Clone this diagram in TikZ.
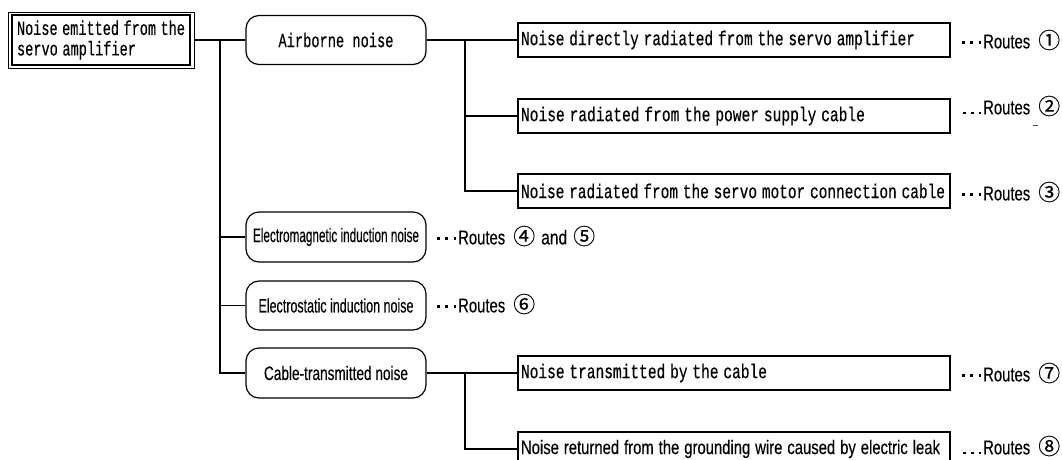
\documentclass[tikz,border=0pt]{standalone}
\usepackage{fontspec}
\usepackage{graphicx}
\setmainfont{Liberation Sans}
\newfontfamily\monof[FakeBold=0.4]{Liberation Mono}
\newfontfamily\sansf[FakeBold=0.3]{Liberation Sans}
\newfontfamily\cjkf[FakeBold=0.3]{Noto Sans CJK JP}
% squeeze a piece of text to a given width, keeping its height
\newcommand\fitto[2]{\resizebox{#1}{\height}{#2}}
\newcommand\dotbox{\rule{2.6pt}{2.6pt}}
\newcommand\dotmark{\raisebox{4.5pt}{\dotbox}}
\newcommand\middots{\hbox to 19pt{\dotmark\hss\dotmark\hss\dotmark}\hspace{2pt}}
\newcommand\lowdots{\hbox to 18pt{\dotbox\hss\dotbox\hss\dotbox}\hspace{2pt}}
\newcommand\circnum[1]{{\cjkf\fontsize{22}{22}\selectfont #1}}
\newcommand\routes{\fitto{47pt}{Routes}}
\begin{document}
\begin{tikzpicture}[x=1pt,y=-1pt,
  conn/.style={line width=1.6pt},
  plainbox/.style={draw, line width=1.2pt, rectangle, minimum width=432pt,
    minimum height=34pt, inner xsep=3pt, inner ysep=0pt, text width=426pt,
    align=left, font=\monof\fontsize{20}{22}\selectfont},
  roundbox/.style={draw, line width=1.2pt, rounded corners=13pt,
    minimum width=180pt, minimum height=49pt, inner sep=0pt, align=center,
    font=\sansf\fontsize{19.5}{22}\selectfont},
  routelabel/.style={anchor=west, inner sep=0pt,
    font=\sansf\fontsize{20}{22}\selectfont},
]
\useasboundingbox (0,0) rectangle (1062,459);

% source of the noise (double frame)
\node[draw, line width=0.8pt, minimum width=186pt, minimum height=56pt,
  inner sep=0pt] (root) at (101,40) {};
\node[draw, line width=1.4pt, minimum width=178pt, minimum height=50pt,
  inner xsep=5pt, inner ysep=0pt, text width=168pt, align=left,
  font=\monof\fontsize{20}{20.5}\selectfont] (rootin) at (101,40)
  {\fitto{168pt}{Noise emitted from the}\\\fitto{119pt}{servo amplifier}};

% second level: kinds of noise
\node[roundbox, font=\monof\fontsize{20}{22}\selectfont] (air) at (336,40)
  {\fitto{115pt}{Airborne noise}};
\node[roundbox, minimum height=50pt] (em) at (336,237)
  {\fitto{166pt}{Electromagnetic induction noise}};
\node[roundbox] (es) at (336,305.5)
  {\fitto{155pt}{Electrostatic induction noise}};
\node[roundbox, minimum height=50pt] (cab) at (336,373)
  {\fitto{144pt}{Cable-transmitted noise}};

% third level: individual paths
\node[plainbox] (r1) at (734,40)
  {\fitto{394pt}{Noise directly radiated from the servo amplifier}};
\node[plainbox] (r2) at (734,116)
  {\fitto{344pt}{Noise radiated from the power supply cable}};
\node[plainbox] (r3) at (734,191)
  {\fitto{424pt}{Noise radiated from the servo motor connection cable}};
\node[plainbox] (r7) at (734,373)
  {\fitto{246pt}{Noise transmitted by the cable}};
\node[plainbox, font=\sansf\fontsize{19.5}{22}\selectfont] (r8) at (734,449)
  {\fitto{419pt}{Noise returned from the grounding wire caused by electric leak}};

% route references
\node[routelabel] (l1) at (962,40) {\middots\routes\hspace{8pt}\circnum{①}};
\node[routelabel] (l2) at (963,106) {\lowdots\routes\hspace{8pt}\circnum{②}};
\node[routelabel] (l3) at (962,192) {\middots\routes\hspace{8pt}\circnum{③}};
\node[routelabel] (l45) at (437,236)
  {\middots\routes\hspace{8pt}\circnum{④}\hspace{6pt}\fitto{26pt}{and}\hspace{6pt}\circnum{⑤}};
\node[routelabel] (l6) at (437,304) {\middots\routes\hspace{8pt}\circnum{⑥}};
\node[routelabel] (l7) at (962,373) {\middots\routes\hspace{8pt}\circnum{⑦}};
\node[routelabel] (l8) at (963,446) {\lowdots\routes\hspace{8pt}\circnum{⑧}};
\draw[line width=0.8pt, black!70] (1033,125) -- (1038,125);

% connectors
\coordinate (t) at (220,40);
\coordinate (b1) at (465,40);
\coordinate (b2) at (465,373);
\draw[conn] (root.east) -- (air.west);
\draw[conn] (t) |- (em.west);
\draw[conn] (t) |- (es.west);
\draw[conn] (t) |- (cab.west);
\draw[conn] (air.east) -- (r1.west);
\draw[conn] (b1) |- (r2.west);
\draw[conn] (b1) |- (r3.west);
\draw[conn] (cab.east) -- (r7.west);
\draw[conn] (b2) |- (r8.west);
\end{tikzpicture}
\end{document}
